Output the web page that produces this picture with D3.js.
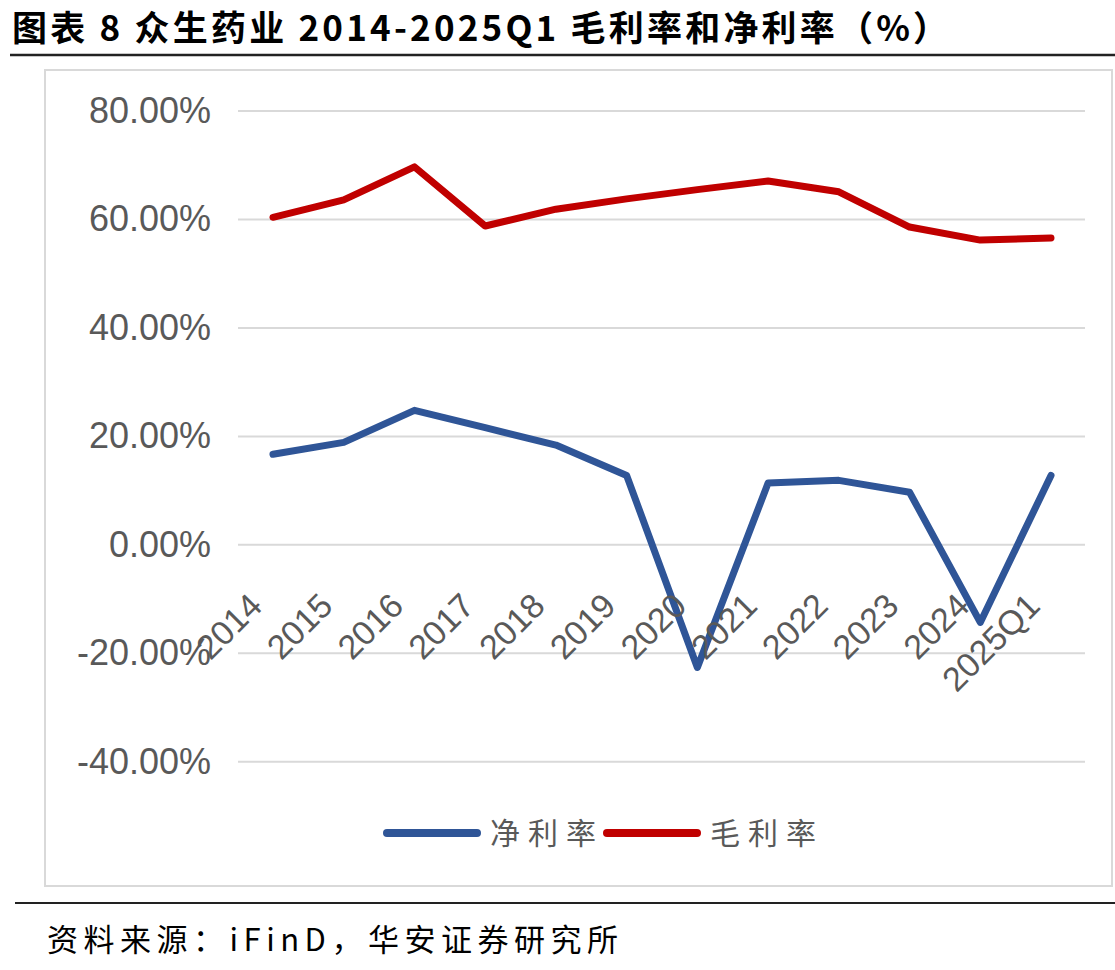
<!DOCTYPE html>
<html>
<head>
<meta charset="utf-8">
<script src="https://cdn.jsdelivr.net/npm/d3@7"></script>
<style>
  body { margin: 0; background: #fff; }
</style>
</head>
<body>
<div id="chart"></div>
<script>
// data
var years = ["2014", "2015", "2016", "2017", "2018", "2019", "2020", "2021", "2022", "2023", "2024", "2025Q1"];
var netMargin = [16.7, 18.9, 24.8, 21.6, 18.4, 12.8, -22.6, 11.4, 11.9, 9.7, -14.3, 12.8];
var grossMargin = [60.4, 63.6, 69.7, 58.8, 61.9, 63.8, 65.5, 67.1, 65.1, 58.6, 56.2, 56.6];
var yTicks = [-40, -20, 0, 20, 40, 60, 80];
var seriesNames = ["净利率", "毛利率"];
var colors = ["#2F5597", "#C00000"];

var W = 1115, H = 970;
var svg = d3.select("#chart").append("svg")
  .attr("width", W)
  .attr("height", H);

svg.append("rect").attr("width", W).attr("height", H).attr("fill", "#fff");

// title
svg.append("text")
  .attr("x", 12)
  .attr("y", 41)
  .text("图表 8 众生药业 2014-2025Q1 毛利率和净利率（%）")
  .style("font-family", "'Noto Sans CJK SC', sans-serif")
  .style("font-weight", "bold")
  .style("font-size", "35px")
  .style("letter-spacing", "3.2px")
  .attr("fill", "#000");

svg.append("line")
  .attr("x1", 10).attr("x2", W)
  .attr("y1", 55).attr("y2", 55)
  .attr("stroke", "#222").attr("stroke-width", 2.5);

// chart box
svg.append("rect")
  .attr("x", 45).attr("y", 70)
  .attr("width", 1067).attr("height", 816)
  .attr("fill", "none")
  .attr("stroke", "#d9d9d9").attr("stroke-width", 2);

// scales
var x = d3.scalePoint()
  .domain(years)
  .range([273, 1051]);

var y = d3.scaleLinear()
  .domain([-40, 80])
  .range([761.8, 111]);

// grid lines + y labels
var grid = svg.append("g");
grid.selectAll("line")
  .data(yTicks)
  .enter().append("line")
  .attr("x1", 238).attr("x2", 1085)
  .attr("y1", function(d) { return y(d); })
  .attr("y2", function(d) { return y(d); })
  .attr("stroke", "#d9d9d9").attr("stroke-width", 2);

grid.selectAll("text")
  .data(yTicks)
  .enter().append("text")
  .attr("x", 211)
  .attr("y", function(d) { return y(d) + 12; })
  .attr("text-anchor", "end")
  .text(function(d) { return d.toFixed(2) + "%"; })
  .style("font-family", "'Liberation Sans', Arial, sans-serif")
  .style("font-size", "36px")
  .attr("fill", "#595959");

// lines
var line = d3.line()
  .x(function(d, i) { return x(years[i]); })
  .y(function(d) { return y(d); });

[grossMargin, netMargin].forEach(function(s, k) {
  svg.append("path")
    .datum(s)
    .attr("d", line)
    .attr("fill", "none")
    .attr("stroke", k === 0 ? colors[1] : colors[0])
    .attr("stroke-width", 7)
    .attr("stroke-linejoin", "round")
    .attr("stroke-linecap", "round");
});

// x labels, rotated
svg.append("g").selectAll("text")
  .data(years)
  .enter().append("text")
  .attr("transform", function(d) { return "translate(" + (x(d) - 9) + "," + (y(0) + 63) + ") rotate(-45)"; })
  .attr("text-anchor", "end")
  .text(function(d) { return d; })
  .style("font-family", "'Liberation Sans', Arial, sans-serif")
  .style("font-size", "34px")
  .attr("fill", "#595959");

// legend
var legendX = [387, 607];
var legend = svg.append("g").selectAll("g")
  .data(seriesNames)
  .enter().append("g")
  .attr("transform", function(d, i) { return "translate(" + legendX[i] + ",833)"; });

legend.append("line")
  .attr("x1", 0).attr("x2", 90)
  .attr("y1", 0).attr("y2", 0)
  .attr("stroke", function(d, i) { return colors[i]; })
  .attr("stroke-width", 8)
  .attr("stroke-linecap", "round");

legend.append("text")
  .attr("x", 103)
  .attr("y", 11)
  .text(function(d) { return d; })
  .style("font-family", "'Noto Sans CJK SC', sans-serif")
  .style("font-size", "30px")
  .style("letter-spacing", "8px")
  .attr("fill", "#595959");

// source
svg.append("line")
  .attr("x1", 15).attr("x2", W)
  .attr("y1", 903).attr("y2", 903)
  .attr("stroke", "#222").attr("stroke-width", 2);

svg.append("text")
  .attr("x", 47)
  .attr("y", 951)
  .text("资料来源：iFinD，华安证券研究所")
  .style("font-family", "'Noto Sans CJK SC', sans-serif")
  .style("font-size", "31px")
  .style("letter-spacing", "5.5px")
  .attr("fill", "#000");
</script>
</body>
</html>
